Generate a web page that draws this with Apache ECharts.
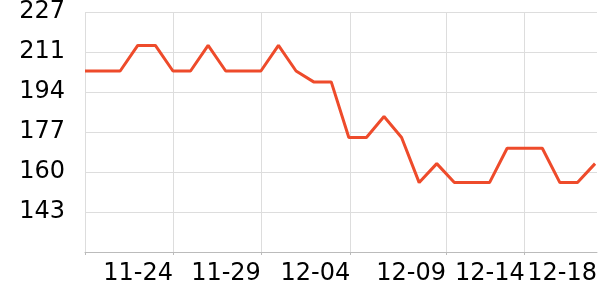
<!DOCTYPE html>
<html>
<head>
<meta charset="utf-8">
<script src="https://cdn.jsdelivr.net/npm/echarts@6/dist/echarts.min.js"></script>
<style>html,body{margin:0;padding:0;background:#fff}#c{width:600px;height:300px}</style>
</head>
<body>
<div id="c"></div>
<script>
// Dates (daily), 11-19 .. 12-18
const dates = ['11-19','11-20','11-21','11-22','11-23','11-24','11-25','11-26','11-27','11-28',
  '11-29','11-30','12-01','12-02','12-03','12-04','12-05','12-06','12-07','12-08',
  '12-09','12-10','12-11','12-12','12-13','12-14','12-15','12-16','12-17','12-18'];
const values = [202.5,202.5,202.5,213.3,213.3,202.5,202.5,213.3,202.5,202.5,
  202.5,213.3,202.5,197.9,197.9,174.4,174.4,183.3,174.4,155.4,
  163.4,155.4,155.4,155.4,169.9,169.9,169.9,155.4,155.4,163.4];
// Tick / label positions (as date index)
const xMax = 29.11;
const tickPositions = [0, 5, 10, 15.08, 20.52, 25];
const labelPositions = [5, 10, 15.08, 20.52, 25, 29.11];
const yMin = 126.1, yMax = 227.4;

const chart = echarts.init(document.getElementById('c'), null, {renderer: 'canvas'});
const font = 'DejaVu Sans';
chart.setOption({
  animation: false,
  grid: {left: 85, right: 0, top: 10, bottom: 48, containLabel: false},
  xAxis: {
    type: 'value', min: 0, max: xMax,
    axisLine: {show: true, lineStyle: {color: '#bbbbbb', width: 1}},
    axisTick: {show: true, length: 3, customValues: tickPositions, lineStyle: {color: '#bbbbbb'}},
    axisLabel: {
      customValues: labelPositions, align: 'right', margin: 10,
      fontFamily: font, fontSize: 24, color: '#000',
      formatter: v => dates[Math.min(dates.length - 1, Math.floor(v))]
    },
    splitLine: {show: true, lineStyle: {color: '#dddddd', width: 1}}
  },
  yAxis: {
    type: 'value', min: yMin, max: yMax, interval: (yMax - yMin) / 6,
    axisLine: {show: false}, axisTick: {show: false},
    axisLabel: {
      showMinLabel: false, margin: 20, fontFamily: font, fontSize: 24, color: '#000',
      formatter: v => String(Math.round(v))
    },
    splitLine: {show: true, lineStyle: {color: '#dddddd', width: 1}}
  },
  series: [{
    type: 'line', data: values.map((v, i) => [i, v]), showSymbol: false,
    lineStyle: {color: '#ee4b2b', width: 3}, itemStyle: {color: '#ee4b2b'}
  }]
});
</script>
</body>
</html>
